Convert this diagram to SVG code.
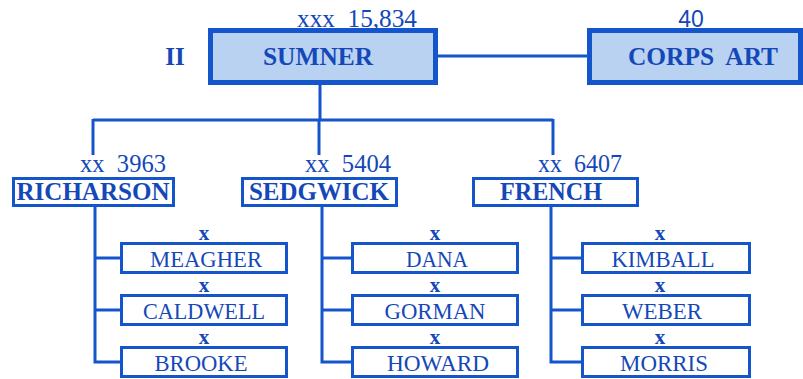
<svg xmlns="http://www.w3.org/2000/svg" width="803" height="379" viewBox="0 0 803 379">
<style>
.ln{stroke:#1555cc;stroke-width:3;fill:none}
.hq{fill:#bad2f2;stroke:#1555cc;stroke-width:5}
.dv{fill:#fff;stroke:#1555cc;stroke-width:3}
.t{font-family:"Liberation Serif","Times New Roman",serif;fill:#1448b8;text-anchor:middle}
.b{font-weight:bold}
.s{font-family:"Liberation Sans",Arial,sans-serif;fill:#1448b8;text-anchor:middle}
.n{font-size:24px}
.x{font-size:21px;font-weight:bold}
</style>
<rect width="803" height="379" fill="#fff"/>
<g id="connectors">
<line class="ln" x1="435" y1="56" x2="590" y2="56"/>
<line class="ln" x1="320" y1="84" x2="320" y2="120"/>
<line class="ln" x1="93" y1="120" x2="553" y2="120"/>
<line class="ln" x1="93" y1="119" x2="93" y2="155"/>
<line class="ln" x1="319" y1="119" x2="319" y2="155"/>
<line class="ln" x1="553" y1="119" x2="553" y2="155"/>
<polyline class="ln" points="95,206 95,362 121,362"/>
<line class="ln" x1="95" y1="258" x2="121" y2="258"/>
<line class="ln" x1="95" y1="310" x2="121" y2="310"/>
<polyline class="ln" points="322,206 322,362 352,362"/>
<line class="ln" x1="322" y1="258" x2="352" y2="258"/>
<line class="ln" x1="322" y1="310" x2="352" y2="310"/>
<polyline class="ln" points="551,206 551,362 582,362"/>
<line class="ln" x1="551" y1="258" x2="582" y2="258"/>
<line class="ln" x1="551" y1="310" x2="582" y2="310"/>
</g>
<g id="corps-label"><text class="t b" x="175" y="65" font-size="25">II</text></g>
<g id="sumner">
<rect class="hq" x="210.5" y="30.5" width="225" height="52"/>
<text class="t" x="357" y="27" font-size="25" textLength="120" lengthAdjust="spacingAndGlyphs" xml:space="preserve">xxx  15,834</text>
<text class="t b" x="318" y="65" font-size="26" textLength="110" lengthAdjust="spacingAndGlyphs">SUMNER</text>
</g>
<g id="corps-art">
<rect class="hq" x="589.5" y="30.5" width="211" height="52"/>
<text class="s" x="691" y="27" font-size="23">40</text>
<text class="t b" x="703" y="65" font-size="26" textLength="150" lengthAdjust="spacingAndGlyphs" xml:space="preserve">CORPS  ART</text>
</g>
<g id="richarson">
<rect class="dv" x="13.5" y="178.5" width="160" height="27"/>
<text class="t" x="123" y="172" font-size="25" textLength="86" lengthAdjust="spacingAndGlyphs" xml:space="preserve">xx  3963</text>
<text class="t b" x="93" y="200" font-size="25" textLength="153" lengthAdjust="spacingAndGlyphs">RICHARSON</text>
</g>
<g id="sedgwick">
<rect class="dv" x="242.5" y="178.5" width="154" height="27"/>
<text class="t" x="348" y="172" font-size="25" textLength="86" lengthAdjust="spacingAndGlyphs" xml:space="preserve">xx  5404</text>
<text class="t b" x="319" y="200" font-size="25" textLength="140" lengthAdjust="spacingAndGlyphs">SEDGWICK</text>
</g>
<g id="french">
<rect class="dv" x="473.5" y="178.5" width="164" height="27"/>
<text class="t" x="580" y="172" font-size="25" textLength="84" lengthAdjust="spacingAndGlyphs" xml:space="preserve">xx  6407</text>
<text class="t b" x="551" y="200" font-size="25" textLength="102" lengthAdjust="spacingAndGlyphs">FRENCH</text>
</g>
<g id="meagher"><rect class="dv" x="121.5" y="243.5" width="165" height="29"/><text class="t x" x="204" y="240">x</text><text class="t n" x="206" y="267" textLength="112" lengthAdjust="spacingAndGlyphs">MEAGHER</text></g>
<g id="caldwell"><rect class="dv" x="121.5" y="295.5" width="165" height="29"/><text class="t x" x="204" y="292">x</text><text class="t n" x="204" y="319" textLength="122" lengthAdjust="spacingAndGlyphs">CALDWELL</text></g>
<g id="brooke"><rect class="dv" x="121.5" y="347.5" width="165" height="29"/><text class="t x" x="204" y="344">x</text><text class="t n" x="201" y="371" textLength="93" lengthAdjust="spacingAndGlyphs">BROOKE</text></g>
<g id="dana"><rect class="dv" x="352.5" y="243.5" width="165" height="29"/><text class="t x" x="435" y="240">x</text><text class="t n" x="437" y="267" textLength="62" lengthAdjust="spacingAndGlyphs">DANA</text></g>
<g id="gorman"><rect class="dv" x="352.5" y="295.5" width="165" height="29"/><text class="t x" x="435" y="292">x</text><text class="t n" x="435" y="319" textLength="101" lengthAdjust="spacingAndGlyphs">GORMAN</text></g>
<g id="howard"><rect class="dv" x="352.5" y="347.5" width="165" height="29"/><text class="t x" x="435" y="344">x</text><text class="t n" x="438" y="371" textLength="102" lengthAdjust="spacingAndGlyphs">HOWARD</text></g>
<g id="kimball"><rect class="dv" x="582.5" y="243.5" width="167" height="29"/><text class="t x" x="660" y="240">x</text><text class="t n" x="663" y="267" textLength="103" lengthAdjust="spacingAndGlyphs">KIMBALL</text></g>
<g id="weber"><rect class="dv" x="582.5" y="295.5" width="167" height="29"/><text class="t x" x="660" y="292">x</text><text class="t n" x="662" y="319" textLength="80" lengthAdjust="spacingAndGlyphs">WEBER</text></g>
<g id="morris"><rect class="dv" x="582.5" y="347.5" width="167" height="29"/><text class="t x" x="660" y="344">x</text><text class="t n" x="664" y="371" textLength="88" lengthAdjust="spacingAndGlyphs">MORRIS</text></g>
</svg>
